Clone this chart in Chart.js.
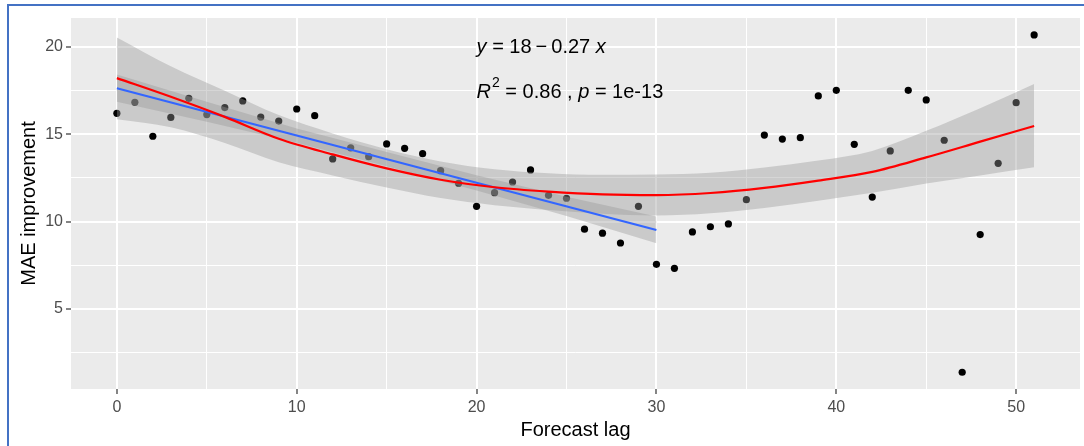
<!DOCTYPE html>
<html>
<head>
<meta charset="utf-8">
<script src="https://cdn.jsdelivr.net/npm/chart.js@4.4.1/dist/chart.umd.min.js"></script>
<style>
  html, body { margin: 0; padding: 0; background: #fff; overflow: hidden; }
  #wrap { position: relative; width: 1084px; height: 446px; }
  #frame {
    position: absolute; left: 7px; top: 4px; width: 1100px; height: 460px;
    border-left: 2px solid #4472C4; border-top: 2px solid #4472C4;
    pointer-events: none;
  }
</style>
</head>
<body>
<div id="wrap">
  <canvas id="chart" width="1084" height="446"></canvas>
  <div id="frame"></div>
</div>
<script>
// observed points
const lags = [0, 1, 2, 3, 4, 5, 6, 7, 8, 9, 10, 11, 12, 13, 14, 15, 16, 17, 18, 19, 20, 21, 22, 23, 24, 25,
  26, 27, 28, 29, 30, 31, 32, 33, 34, 35, 36, 37, 38, 39, 40, 41, 42, 43, 44, 45, 46, 47, 48, 49, 50, 51];
const maeImprovement = [16.2, 16.83, 14.89, 15.97, 17.06, 16.13, 16.53, 16.91, 15.99, 15.76, 16.45, 16.07,
  13.59, 14.23, 13.72, 14.45, 14.2, 13.89, 12.92, 12.2, 10.88, 11.66, 12.27, 12.96, 11.51, 11.34,
  9.57, 9.34, 8.78, 10.88, 7.56, 7.33, 9.41, 9.71, 9.87, 11.26, 14.96, 14.73, 14.81, 17.2, 17.52,
  14.43, 11.41, 14.05, 17.52, 16.97, 14.66, 1.38, 9.26, 13.34, 16.81, 20.69];

// linear fit (lags 0-30) and its band
const lmLags = [0, 30];
const lmFit = [17.64, 9.52];
const lmBandLags = [0, 5, 10, 15, 20, 25, 30];
const lmUpper = [18.42, 16.86, 15.34, 13.99, 12.66, 11.42, 10.29];
const lmLower = [16.86, 15.72, 14.52, 13.17, 11.78, 10.32, 8.76];

// loess fit (all lags) and its band
const loessLags = [0, 3, 6, 9, 12, 15, 18, 21, 24, 27, 30, 33, 36, 39, 42, 45, 48, 51];
const loessFit = [18.22, 17.15, 16.0, 14.75, 13.85, 13.05, 12.4, 11.97, 11.72, 11.56, 11.52, 11.64,
  11.93, 12.35, 12.85, 13.68, 14.58, 15.48];
const loessUpper = [20.55, 18.9, 17.5, 16.1, 15.05, 14.15, 13.45, 13.0, 12.77, 12.68, 12.7, 12.8,
  13.1, 13.5, 14.05, 15.2, 16.5, 17.88];
const loessLower = [15.86, 15.4, 14.5, 13.4, 12.65, 11.95, 11.35, 10.94, 10.67, 10.45, 10.35, 10.48,
  10.78, 11.2, 11.65, 12.18, 12.65, 13.11];

// axes
const xMajor = [0, 10, 20, 30, 40, 50];
const xMinor = [5, 15, 25, 35, 45];
const yMajor = [5, 10, 15, 20];
const yMinor = [2.5, 7.5, 12.5, 17.5];

// annotation
const annX = 20;
const annY = [20, 17.4];

const FONT = '"Liberation Sans", Arial, sans-serif';
const BAND = 'rgba(153,153,153,0.4)';

const pts = (xs, ys) => xs.map((x, i) => ({ x: x, y: ys[i] }));

const panelBg = {
  id: 'panelBg',
  beforeDraw(chart) {
    const { ctx, chartArea: a } = chart;
    ctx.save();
    ctx.fillStyle = '#EBEBEB';
    ctx.fillRect(a.left, a.top, a.right - a.left, a.bottom - a.top);
    ctx.restore();
  }
};

const equation = {
  id: 'equation',
  afterDatasetsDraw(chart) {
    const { ctx, scales } = chart;
    const lines = [
      [['y', true], [' = 18\u2009\u2212\u20090.27 ', false], ['x', true]],
      [['R', true], ['2', 'sup'], [' = 0.86 , ', false], ['p', true], [' = 1e-13', false]]
    ];
    ctx.save();
    ctx.fillStyle = '#000';
    ctx.textBaseline = 'middle';
    ctx.textAlign = 'left';
    lines.forEach((parts, li) => {
      let x = scales.x.getPixelForValue(annX);
      const y = scales.y.getPixelForValue(annY[li]);
      parts.forEach(([t, style]) => {
        if (style === 'sup') {
          ctx.font = '14px ' + FONT;
          ctx.fillText(t, x + 1, y - 9);
          x += ctx.measureText(t).width + 1;
        } else {
          ctx.font = (style ? 'italic ' : '') + '20px ' + FONT;
          ctx.fillText(t, x, y);
          x += ctx.measureText(t).width;
        }
      });
    });
    ctx.restore();
  }
};

const gridWidth = (major) => (c) => (c.tick && major.includes(c.tick.value) ? 2 : 1);
const tickCol = (major) => (c) => (c.tick && major.includes(c.tick.value) ? '#333333' : 'rgba(0,0,0,0)');

new Chart(document.getElementById('chart'), {
  type: 'line',
  data: {
    datasets: [
      { data: pts(lags, maeImprovement), showLine: false, pointRadius: 3.6, pointBackgroundColor: '#000',
        pointBorderWidth: 0, order: 10 },
      { data: pts(lmBandLags, lmUpper), borderWidth: 0, pointRadius: 0, fill: false, order: 9 },
      { data: pts(lmBandLags, lmLower), borderWidth: 0, pointRadius: 0, fill: '-1', backgroundColor: BAND, order: 9 },
      { data: pts(loessLags, loessUpper), borderWidth: 0, pointRadius: 0, fill: false, order: 8,
        cubicInterpolationMode: 'monotone' },
      { data: pts(loessLags, loessLower), borderWidth: 0, pointRadius: 0, fill: '-1', backgroundColor: BAND, order: 8,
        cubicInterpolationMode: 'monotone' },
      { data: pts(lmLags, lmFit), borderColor: '#3366FF', borderWidth: 2.2, pointRadius: 0, fill: false, order: 2 },
      { data: pts(loessLags, loessFit), borderColor: '#FF0000', borderWidth: 2.2, pointRadius: 0, fill: false, order: 1,
        cubicInterpolationMode: 'monotone' }
    ]
  },
  options: {
    responsive: false,
    animation: false,
    layout: { padding: { top: 18, right: 0, bottom: 0, left: 0 } },
    plugins: { legend: { display: false }, tooltip: { enabled: false } },
    scales: {
      x: {
        type: 'linear', min: -2.55, max: 53.55,
        afterBuildTicks: (s) => { s.ticks = xMajor.concat(xMinor).sort((a, b) => a - b).map(v => ({ value: v })); },
        afterFit: (s) => { s.height = 57; },
        border: { display: false },
        grid: { color: '#FFFFFF', lineWidth: gridWidth(xMajor), tickColor: tickCol(xMajor), tickLength: 5, tickWidth: 1.2 },
        ticks: {
          color: '#4D4D4D', font: { family: FONT, size: 16 }, padding: 4, maxRotation: 0, autoSkip: false,
          callback: (v) => (xMajor.includes(v) ? String(v) : '')
        },
        title: { display: true, text: 'Forecast lag', color: '#000', font: { family: FONT, size: 20 },
          padding: { top: 0, bottom: 4 } }
      },
      y: {
        min: 0.42, max: 21.66,
        afterBuildTicks: (s) => { s.ticks = yMinor.concat(yMajor).sort((a, b) => a - b).map(v => ({ value: v })); },
        afterFit: (s) => { s.width = 71; },
        border: { display: false },
        grid: { color: '#FFFFFF', lineWidth: gridWidth(yMajor), tickColor: tickCol(yMajor), tickLength: 5, tickWidth: 1.2 },
        ticks: {
          color: '#4D4D4D', font: { family: FONT, size: 16 }, padding: 3, autoSkip: false,
          callback: (v) => (yMajor.includes(v) ? String(v) : '')
        },
        title: { display: true, text: 'MAE improvement', color: '#000', font: { family: FONT, size: 20 },
          padding: { top: 17, bottom: 0 } }
      }
    }
  },
  plugins: [panelBg, equation]
});
</script>
</body>
</html>
